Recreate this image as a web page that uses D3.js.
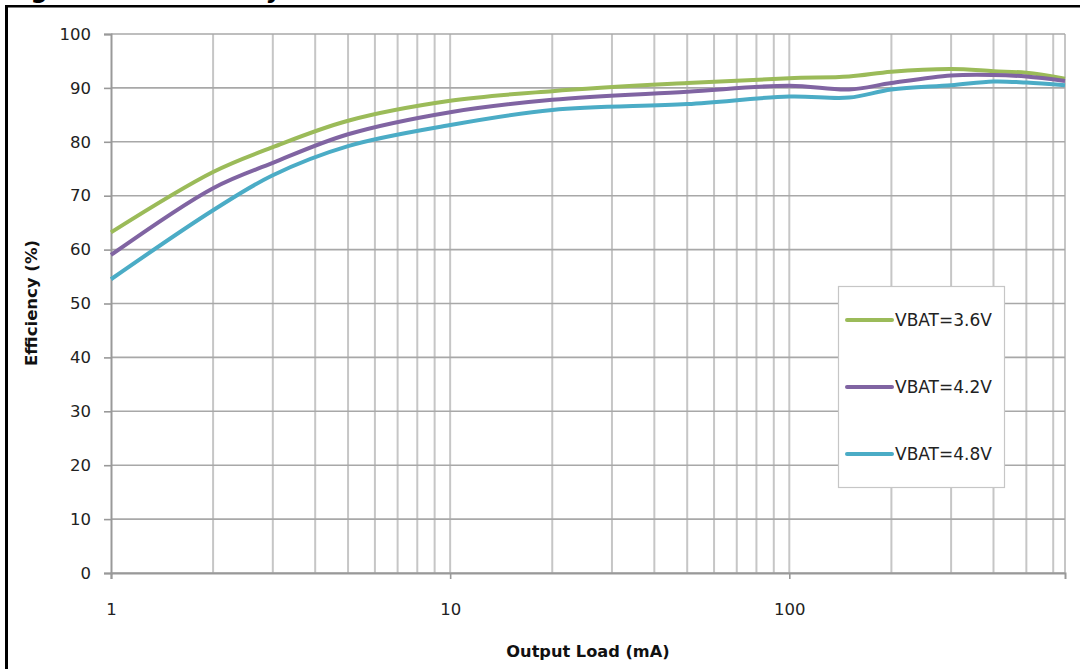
<!DOCTYPE html>
<html>
<head>
<meta charset="utf-8">
<script src="https://cdn.jsdelivr.net/npm/d3@7"></script>
<style>
  html, body { margin: 0; padding: 0; background: #fff; }
  svg { display: block; }
  text { font-family: "DejaVu Sans", Verdana, sans-serif; }
</style>
</head>
<body>
<svg id="chart" width="1080" height="669"></svg>
<script>
// ---- data ----
const loads = [1, 2, 3, 5, 10, 20, 50, 100, 150, 200, 300, 400, 500, 650];
const eff36 = [63.2, 74.4, 79.0, 83.9, 87.6, 89.4, 90.9, 91.8, 92.1, 93.0, 93.5, 93.1, 92.8, 91.7];
const eff42 = [59.0, 71.4, 76.1, 81.4, 85.5, 87.8, 89.3, 90.4, 89.7, 90.9, 92.3, 92.4, 92.1, 91.3];
const eff48 = [54.5, 67.3, 73.8, 79.2, 83.1, 85.9, 87.0, 88.4, 88.2, 89.7, 90.5, 91.2, 91.0, 90.5];
const seriesNames = ["VBAT=3.6V", "VBAT=4.2V", "VBAT=4.8V"];
const seriesColors = ["#9BBB59", "#8064A2", "#4BACC6"];
const yTicks = [0, 10, 20, 30, 40, 50, 60, 70, 80, 90, 100];
const xMajorTicks = [1, 10, 100];
const xMinorTicks = [2,3,4,5,6,7,8,9,20,30,40,50,60,70,80,90,200,300,400,500,600];
const titleText = "Figure 10. Efficiency";
const xTitle = "Output Load (mA)";
const yTitle = "Efficiency (%)";

const series = [eff36, eff42, eff48].map((vals, i) => ({
  name: seriesNames[i], color: seriesColors[i],
  points: loads.map((l, j) => ({ x: l, y: vals[j] }))
}));

const svg = d3.select("#chart");
const L = 111, R = 1065, T = 34, B = 573;

const x = d3.scaleLog().domain([1, 650]).range([L, R]);
const y = d3.scaleLinear().domain([0, 100]).range([B, T]);

// outer frame + title (cut at the top edge, as in the reference)
svg.append("text").attr("x", 6).attr("y", -2)
  .attr("font-size", 24).attr("font-weight", "bold").attr("fill", "#000")
  .text(titleText);
svg.append("line").attr("x1", 5).attr("x2", 1080).attr("y1", 6.3).attr("y2", 6.3)
  .attr("stroke", "#000").attr("stroke-width", 2.6);
svg.append("line").attr("x1", 6.5).attr("x2", 6.5).attr("y1", 5).attr("y2", 669)
  .attr("stroke", "#000").attr("stroke-width", 3);

// vertical gridlines
const g = svg.append("g");
g.selectAll("line.vg").data(xMinorTicks.concat(xMajorTicks.slice(1))).enter().append("line")
  .attr("x1", d => x(d)).attr("x2", d => x(d)).attr("y1", T).attr("y2", B)
  .attr("stroke", "#c6c6c6").attr("stroke-width", 2);
// right border
g.append("line").attr("x1", R).attr("x2", R).attr("y1", T).attr("y2", B)
  .attr("stroke", "#c6c6c6").attr("stroke-width", 2);

// horizontal gridlines
g.selectAll("line.hg").data(yTicks).enter().append("line")
  .attr("x1", L).attr("x2", R).attr("y1", d => y(d)).attr("y2", d => y(d))
  .attr("stroke", "#a8a8a8").attr("stroke-width", 1.6);

// y axis
const yAxis = d3.axisLeft(y).tickValues(yTicks).tickSize(7).tickPadding(13);
const ya = svg.append("g").attr("transform", `translate(${L},0)`).call(yAxis);
ya.select(".domain").attr("stroke", "#999").attr("stroke-width", 2);
ya.selectAll(".tick line").attr("stroke", "#999").attr("stroke-width", 1.6);
ya.selectAll(".tick text").attr("font-size", 16.5).attr("fill", "#222")
  .attr("font-family", "'DejaVu Sans', Verdana, sans-serif");

// x axis
const xAxis = d3.axisBottom(x).tickValues(xMajorTicks).tickFormat(d3.format("d"))
  .tickSize(6).tickPadding(24);
const xa = svg.append("g").attr("transform", `translate(0,${B})`).call(xAxis);
xa.select(".domain").attr("stroke", "#999").attr("stroke-width", 2);
xa.selectAll(".tick line").attr("stroke", "#999").attr("stroke-width", 1.6);
xa.selectAll(".tick text").attr("font-size", 16.5).attr("fill", "#222")
  .attr("font-family", "'DejaVu Sans', Verdana, sans-serif");

// axis titles
svg.append("text").attr("x", 588).attr("y", 657).attr("text-anchor", "middle")
  .attr("font-size", 16.2).attr("font-weight", "bold").attr("fill", "#111").text(xTitle);
svg.append("text").attr("transform", "translate(37,303) rotate(-90)")
  .attr("text-anchor", "middle").attr("font-size", 16.5).attr("font-weight", "bold")
  .attr("fill", "#111").text(yTitle);

// lines
const line = d3.line().x(d => x(d.x)).y(d => y(d.y)).curve(d3.curveCatmullRom.alpha(0.5));
svg.append("g").selectAll("path").data(series).enter().append("path")
  .attr("d", d => line(d.points)).attr("fill", "none")
  .attr("stroke", d => d.color).attr("stroke-width", 4).attr("stroke-linejoin", "round");

// legend
const lg = svg.append("g");
lg.append("rect").attr("x", 838.5).attr("y", 286.5).attr("width", 166).attr("height", 201)
  .attr("fill", "#fff").attr("stroke", "#c6c6c6").attr("stroke-width", 1.2);
const legY = [320, 387, 454];
series.forEach((s, i) => {
  lg.append("line").attr("x1", 847).attr("x2", 892).attr("y1", legY[i]).attr("y2", legY[i])
    .attr("stroke", s.color).attr("stroke-width", 4).attr("stroke-linecap", "round");
  lg.append("text").attr("x", 895).attr("y", legY[i] + 6).attr("font-size", 17)
    .attr("fill", "#222").text(s.name);
});
</script>
</body>
</html>
